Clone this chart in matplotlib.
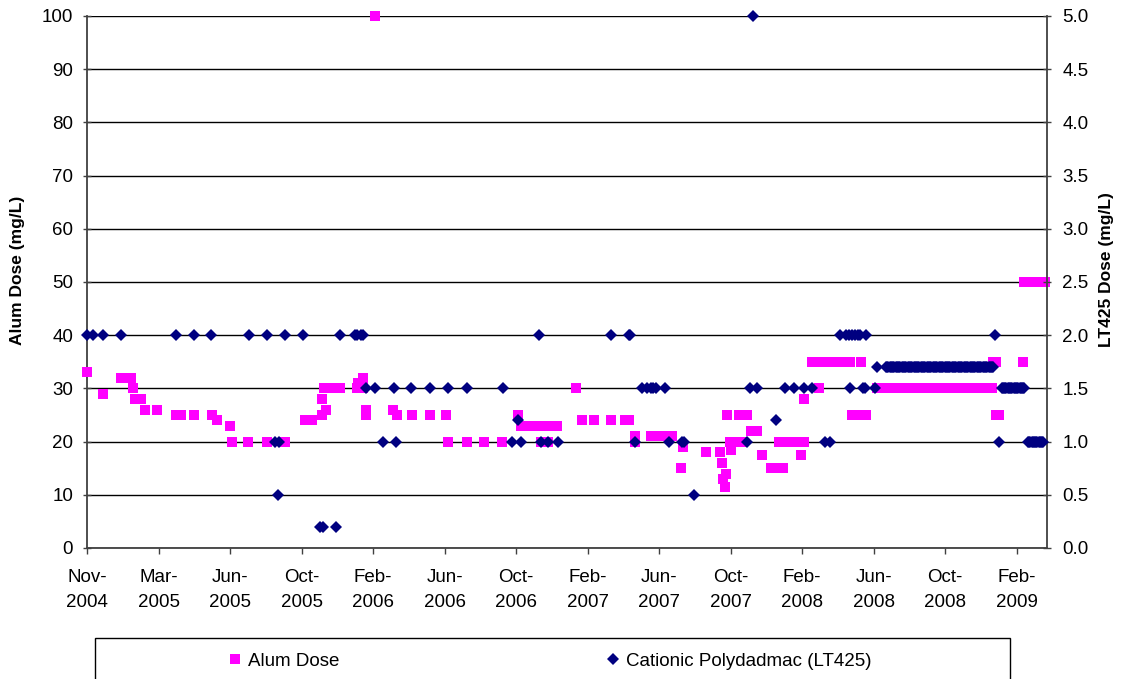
import matplotlib
matplotlib.use('Agg')
import matplotlib.pyplot as plt
import matplotlib.dates as mdates
from matplotlib.lines import Line2D
from matplotlib.patches import Rectangle
import pandas as pd

plt.rcParams['font.family'] = ['Liberation Sans', 'DejaVu Sans']

# ----- alum dose (mg/L), left axis -----
alum_dates = [
    '2004-11-01', '2004-11-28', '2004-12-28', '2005-01-05', '2005-01-13', '2005-01-18',
    '2005-01-20', '2005-01-30', '2005-02-07', '2005-02-27', '2005-03-30', '2005-04-08',
    '2005-04-30', '2005-05-29', '2005-06-07', '2005-06-29', '2005-07-02', '2005-07-30',
    '2005-08-30', '2005-09-29', '2005-11-01', '2005-11-07', '2005-11-13', '2005-11-30',
    '2005-12-01', '2005-12-07', '2005-12-04', '2005-12-12', '2005-12-21', '2005-12-30',
    '2006-01-28', '2006-01-29', '2006-02-07', '2006-02-08', '2006-02-12', '2006-02-13',
    '2006-02-28', '2006-03-30', '2006-04-06', '2006-04-30', '2006-05-31', '2006-06-26',
    '2006-06-30', '2006-07-31', '2006-08-30', '2006-09-29', '2006-10-25', '2006-10-31',
    '2006-11-09', '2006-11-17', '2006-11-29', '2006-12-03', '2006-12-11', '2006-12-15',
    '2006-12-20', '2006-12-30', '2007-01-31', '2007-02-09', '2007-03-01', '2007-03-31',
    '2007-04-23', '2007-04-30', '2007-05-09', '2007-05-10', '2007-06-05', '2007-06-13',
    '2007-06-22', '2007-06-30', '2007-07-10', '2007-07-26', '2007-07-30', '2007-09-06',
    '2007-09-30', '2007-10-03', '2007-10-04', '2007-10-08', '2007-10-10', '2007-10-11',
    '2007-10-16', '2007-10-17', '2007-10-26', '2007-10-31', '2007-11-05', '2007-11-13',
    '2007-11-20', '2007-11-30', '2007-12-09', '2007-12-24', '2008-01-03', '2008-01-07',
    '2008-01-13', '2008-01-19', '2008-01-31', '2008-02-13', '2008-02-17', '2008-02-18',
    '2008-03-01', '2008-03-13', '2008-03-19', '2008-03-31', '2008-04-12', '2008-04-30',
    '2008-05-05', '2008-05-07', '2008-05-16', '2008-05-23', '2008-05-24', '2008-06-01',
    '2008-12-30', '2009-01-05', '2009-01-05', '2009-01-10', '2009-02-19',
]
alum_vals = [
    33, 29, 32, 32, 32, 30,
    28, 28, 26, 26, 25, 25,
    25, 25, 24, 23, 20, 20,
    20, 20, 24, 24, 24, 25,
    28, 26, 30, 30, 30, 30,
    30, 31, 30, 32, 26, 25,
    100, 26, 25, 25, 25, 25,
    20, 20, 20, 20, 25, 23,
    23, 23, 23, 20, 23, 20,
    23, 23, 30, 24, 24, 24,
    24, 24, 20, 21, 21, 21,
    21, 21, 21, 15, 19, 18,
    18, 16, 13, 11.5, 14, 25,
    20, 18.5, 20, 25, 20, 25,
    22, 22, 17.5, 15, 15, 20,
    15, 20, 20, 17.5, 20, 28,
    35, 30, 35, 35, 35, 35,
    35, 25, 25, 35, 25, 25,
    35, 35, 25, 25, 35,
]
# readings held at 30 mg/L through summer-autumn 2008
alum_30_dates = [
    '2008-06-18', '2008-06-23', '2008-06-28', '2008-07-03', '2008-07-08', '2008-07-13',
    '2008-07-18', '2008-07-23', '2008-07-28', '2008-08-02', '2008-08-07', '2008-08-12',
    '2008-08-17', '2008-08-22', '2008-08-27', '2008-09-01', '2008-09-06', '2008-09-11',
    '2008-09-16', '2008-09-21', '2008-09-26', '2008-10-01', '2008-10-06', '2008-10-11',
    '2008-10-16', '2008-10-21', '2008-10-26', '2008-10-31', '2008-11-05', '2008-11-10',
    '2008-11-15', '2008-11-20', '2008-11-25', '2008-11-30', '2008-12-05', '2008-12-10',
    '2008-12-15', '2008-12-20', '2008-12-25', '2008-12-28',
]
# held at 50 mg/L from late Feb 2009
alum_50_dates = [
    '2009-02-20', '2009-02-24', '2009-02-28', '2009-03-04', '2009-03-08',
    '2009-03-12', '2009-03-16', '2009-03-20', '2009-03-24', '2009-03-27',
]

# ----- LT425 dose (mg/L), right axis -----
lt_dates = [
    '2004-11-01', '2004-11-11', '2004-11-28', '2004-12-28', '2005-03-30', '2005-04-30',
    '2005-05-28', '2005-07-31', '2005-08-30', '2005-09-13', '2005-09-18', '2005-09-19',
    '2005-09-30', '2005-10-30', '2005-11-27', '2005-12-02', '2005-12-24', '2005-12-31',
    '2006-01-25', '2006-01-28', '2006-02-03', '2006-02-08', '2006-02-13', '2006-02-28',
    '2006-03-13', '2006-04-01', '2006-04-04', '2006-04-29', '2006-05-31', '2006-06-30',
    '2006-08-01', '2006-09-30', '2006-10-16', '2006-10-25', '2006-10-31', '2006-11-30',
    '2006-12-03', '2006-12-15', '2007-01-01', '2007-03-31', '2007-04-29', '2007-05-02',
    '2007-05-09', '2007-05-22', '2007-05-30', '2007-06-05', '2007-06-09', '2007-06-14',
    '2007-06-29', '2007-07-05', '2007-07-28', '2007-07-31', '2007-08-16', '2007-11-14',
    '2007-11-19', '2007-11-24', '2007-12-01', '2008-01-01', '2008-01-16', '2008-02-01',
    '2008-02-18', '2008-03-01', '2008-03-24', '2008-04-01', '2008-04-17', '2008-04-27',
    '2008-05-02', '2008-05-05', '2008-05-07', '2008-05-12', '2008-05-17', '2008-05-22',
    '2008-05-26', '2008-05-29', '2008-06-01', '2008-06-16', '2008-06-19', '2009-01-02',
    '2009-01-09',
]
lt_vals = [
    2.0, 2.0, 2.0, 2.0, 2.0, 2.0,
    2.0, 2.0, 2.0, 1.0, 0.5, 1.0,
    2.0, 2.0, 0.2, 0.2, 0.2, 2.0,
    2.0, 2.0, 2.0, 2.0, 1.5, 1.5,
    1.0, 1.5, 1.0, 1.5, 1.5, 1.5,
    1.5, 1.5, 1.0, 1.2, 1.0, 2.0,
    1.0, 1.0, 1.0, 2.0, 2.0, 2.0,
    1.0, 1.5, 1.5, 1.5, 1.5, 1.5,
    1.5, 1.0, 1.0, 1.0, 0.5, 1.0,
    1.5, 5.0, 1.5, 1.2, 1.5, 1.5,
    1.5, 1.5, 1.0, 1.0, 2.0, 2.0,
    2.0, 1.5, 2.0, 2.0, 2.0, 2.0,
    1.5, 1.5, 2.0, 1.5, 1.7, 2.0,
    1.0,
]
# frequent readings at 1.7 mg/L, Jul-Dec 2008
lt_17_dates = [
    '2008-07-04', '2008-07-06', '2008-07-08', '2008-07-10', '2008-07-12', '2008-07-14',
    '2008-07-16', '2008-07-18', '2008-07-20', '2008-07-22', '2008-07-24', '2008-07-26',
    '2008-07-28', '2008-07-30', '2008-08-01', '2008-08-03', '2008-08-05', '2008-08-07',
    '2008-08-09', '2008-08-11', '2008-08-13', '2008-08-15', '2008-08-17', '2008-08-19',
    '2008-08-21', '2008-08-23', '2008-08-25', '2008-08-27', '2008-08-29', '2008-08-31',
    '2008-09-02', '2008-09-04', '2008-09-06', '2008-09-08', '2008-09-10', '2008-09-12',
    '2008-09-14', '2008-09-16', '2008-09-18', '2008-09-20', '2008-09-22', '2008-09-24',
    '2008-09-26', '2008-09-28', '2008-09-30', '2008-10-02', '2008-10-04', '2008-10-06',
    '2008-10-08', '2008-10-10', '2008-10-12', '2008-10-14', '2008-10-16', '2008-10-18',
    '2008-10-20', '2008-10-22', '2008-10-24', '2008-10-26', '2008-10-28', '2008-10-30',
    '2008-11-01', '2008-11-03', '2008-11-05', '2008-11-07', '2008-11-09', '2008-11-11',
    '2008-11-13', '2008-11-15', '2008-11-17', '2008-11-19', '2008-11-21', '2008-11-23',
    '2008-11-25', '2008-11-27', '2008-11-29', '2008-12-01', '2008-12-03', '2008-12-05',
    '2008-12-07', '2008-12-09', '2008-12-11', '2008-12-13', '2008-12-15', '2008-12-17',
    '2008-12-19', '2008-12-21', '2008-12-23', '2008-12-25', '2008-12-27', '2008-12-29',
    '2008-12-31',
]
# 1.5 mg/L, Jan-Feb 2009
lt_15_dates = [
    '2009-01-14', '2009-01-16', '2009-01-18', '2009-01-20', '2009-01-22', '2009-01-24',
    '2009-01-26', '2009-01-28', '2009-01-30', '2009-02-01', '2009-02-03', '2009-02-05',
    '2009-02-07', '2009-02-09', '2009-02-11', '2009-02-13', '2009-02-15', '2009-02-17',
    '2009-02-19', '2009-02-21',
]
# 1.0 mg/L, Feb-Mar 2009
lt_10_dates = [
    '2009-02-27', '2009-03-01', '2009-03-03', '2009-03-05', '2009-03-07', '2009-03-09',
    '2009-03-11', '2009-03-13', '2009-03-15', '2009-03-17', '2009-03-19', '2009-03-21',
    '2009-03-23', '2009-03-25',
]

alum_x = pd.to_datetime(alum_dates + alum_30_dates + alum_50_dates)
alum_y = alum_vals + [30] * len(alum_30_dates) + [50] * len(alum_50_dates)
lt_x = pd.to_datetime(lt_dates + lt_17_dates + lt_15_dates + lt_10_dates)
lt_y = lt_vals + [1.7] * len(lt_17_dates) + [1.5] * len(lt_15_dates) + [1.0] * len(lt_10_dates)

x_start = pd.Timestamp('2004-11-01')
x_end = pd.Timestamp('2009-03-31')
x_ticks = [x_start + pd.Timedelta(days=120 * k) for k in range(14)]

W, H = 1124, 679
fig = plt.figure(figsize=(W / 100, H / 100), dpi=100)
ax = fig.add_axes([87 / W, (H - 548) / H, 960 / W, 532 / H])
ax2 = ax.twinx()

SQ = dict(ls='none', marker='s', ms=6.6, mfc='#FF00FF', mec='#FF00FF', mew=0)
DM = dict(ls='none', marker='D', ms=6.2, mfc='#000080', mec='#000080', mew=0)

ax.plot(alum_x, alum_y, clip_on=False, zorder=3, **SQ)
ax2.plot(lt_x, lt_y, clip_on=False, zorder=3, **DM)

ax.set_xlim(x_start, x_end)
ax.set_ylim(0, 100)
ax2.set_ylim(0, 5)
ax.set_yticks(range(0, 101, 10))
ax2.set_yticks([i * 0.5 for i in range(11)])
ax2.yaxis.set_major_formatter(matplotlib.ticker.FormatStrFormatter('%.1f'))
ax.set_xticks(x_ticks)
ax.xaxis.set_major_formatter(mdates.DateFormatter('%b-\n%Y'))

ax.yaxis.grid(True, color='black', lw=1.0)
ax.set_axisbelow(True)

for a in (ax, ax2):
    a.spines['top'].set_visible(False)
    for s in a.spines.values():
        s.set_color('#404040')
        s.set_linewidth(1.3)
ax.spines['right'].set_visible(False)
ax2.spines['left'].set_visible(False)
ax2.spines['bottom'].set_visible(False)

ax.tick_params(axis='y', direction='inout', length=6, width=1, color='#404040',
               labelsize=13.5, pad=7)
ax2.tick_params(axis='y', direction='inout', length=6, width=1, color='#404040',
                labelsize=13.5, pad=8)
ax.tick_params(axis='x', direction='out', length=4, width=1, color='#404040',
               labelsize=13.5, pad=11)
for t in ax.get_xticklabels():
    t.set_linespacing(1.65)

fig.text(18 / W, 1 - 270 / H, 'Alum Dose (mg/L)', rotation=90, ha='center', va='center',
         fontsize=12.5, fontweight='bold')
fig.text(1107 / W, 1 - 270 / H, 'LT425 Dose (mg/L)', rotation=90, ha='center', va='center',
         fontsize=12.5, fontweight='bold')

# legend box runs off the bottom edge
fig.add_artist(Rectangle((95 / W, (H - 700) / H), 915 / W, 62 / H, transform=fig.transFigure,
                         fill=False, edgecolor='black', lw=1.0, clip_on=False))
leg_y = 1 - 661 / H
for style, lab, x in [(SQ, 'Alum Dose', 229), (DM, 'Cationic Polydadmac (LT425)', 607)]:
    fig.legend(handles=[Line2D([], [], **style)], labels=[lab], loc='center left',
               bbox_to_anchor=(x / W, leg_y), frameon=False, fontsize=13.5,
               handlelength=0.6, handletextpad=0.4, borderpad=0, borderaxespad=0)

fig.savefig('out.png', dpi=100)
